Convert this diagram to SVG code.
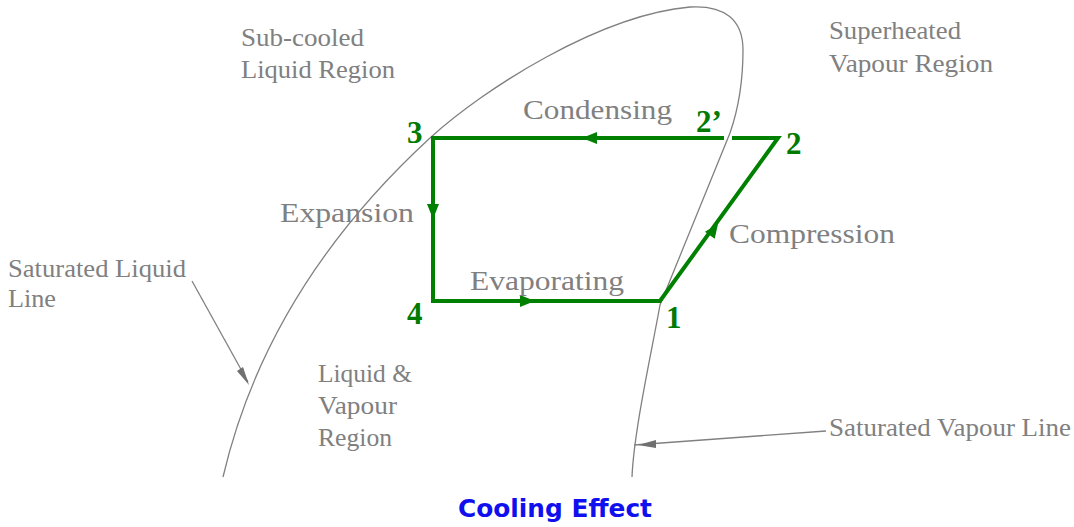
<svg xmlns="http://www.w3.org/2000/svg" width="1074" height="527" viewBox="0 0 1074 527">
<style>
.lbl{font-family:"Liberation Serif","Times New Roman",serif;fill:#808080;font-size:25px}
.big{font-family:"Liberation Serif","Times New Roman",serif;fill:#808080;font-size:28px}
.num{font-family:"Liberation Serif","Times New Roman",serif;fill:#007a00;font-size:31px;font-weight:bold}
.cyc{stroke:#008000;stroke-width:4;fill:none;stroke-linecap:square}
.ah{fill:#008000}
.thin{stroke:#808080;stroke-width:1.3;fill:none}
.gah{fill:#707070}
.title{font-family:"DejaVu Sans","Verdana",sans-serif;fill:#1010ee;font-size:25px;font-weight:bold}
</style>
<rect width="1074" height="527" fill="#ffffff"/>
<g id="dome">
<path class="thin" d="M223,477 C255,340 330,230 430,138 C485,88 600,15 690,7 C725,5 743,20 743,50 C743,85 738,110 730,133 L660,305 C652,350 634,430 632,477"/>
</g>
<g id="connectors">
<g id="cycle">
<path class="cyc" d="M433,138 L722,138"/>
<path class="cyc" d="M734,138 L778,138 L660,301 L433,301 L433,138"/>
<polygon class="ah" points="582,138 597,132 597,144"/>
<polygon class="ah" points="433,219 427,204 439,204"/>
<polygon class="ah" points="535,301 520,295 520,307"/>
<polygon class="ah" points="718,224 714.7,238.8 704.9,231.8"/>
</g>
<g id="sat-liquid-pointer">
<path class="thin" d="M192,281 L248,382"/>
<polygon class="gah" points="249,385 237,371 243,367"/>
</g>
<g id="sat-vapour-pointer">
<path class="thin" d="M826,431 L634,445"/>
<polygon class="gah" points="638,445 656,440 656,448"/>
</g>
</g>
<g id="point-3"><text class="num" x="407" y="143">3</text></g>
<g id="point-4"><text class="num" x="407" y="324">4</text></g>
<g id="point-1"><text class="num" x="666" y="328">1</text></g>
<g id="point-2"><text class="num" x="786" y="154">2</text></g>
<g id="point-2p"><text class="num" x="696" y="132">2’</text></g>
<g id="lbl-condensing"><text class="big" x="523" y="119" textLength="149" lengthAdjust="spacingAndGlyphs">Condensing</text></g>
<g id="lbl-expansion"><text class="big" x="280" y="222" textLength="134" lengthAdjust="spacingAndGlyphs">Expansion</text></g>
<g id="lbl-evaporating"><text class="big" x="470" y="290" textLength="154" lengthAdjust="spacingAndGlyphs">Evaporating</text></g>
<g id="lbl-compression"><text class="big" x="729" y="243" textLength="166" lengthAdjust="spacingAndGlyphs">Compression</text></g>
<g id="lbl-subcooled">
<text class="lbl" x="241" y="46" textLength="123" lengthAdjust="spacingAndGlyphs">Sub-cooled</text>
<text class="lbl" x="241" y="78" textLength="154" lengthAdjust="spacingAndGlyphs">Liquid Region</text>
</g>
<g id="lbl-superheated">
<text class="lbl" x="829" y="39" textLength="132" lengthAdjust="spacingAndGlyphs">Superheated</text>
<text class="lbl" x="829" y="72" textLength="164" lengthAdjust="spacingAndGlyphs">Vapour Region</text>
</g>
<g id="lbl-sat-liquid">
<text class="lbl" x="8" y="277" textLength="178" lengthAdjust="spacingAndGlyphs">Saturated Liquid</text>
<text class="lbl" x="8" y="307" textLength="48" lengthAdjust="spacingAndGlyphs">Line</text>
</g>
<g id="lbl-mixture">
<text class="lbl" x="318" y="382" textLength="94" lengthAdjust="spacingAndGlyphs">Liquid &amp;</text>
<text class="lbl" x="318" y="414" textLength="79" lengthAdjust="spacingAndGlyphs">Vapour</text>
<text class="lbl" x="318" y="446" textLength="74" lengthAdjust="spacingAndGlyphs">Region</text>
</g>
<g id="lbl-sat-vapour"><text class="lbl" x="829" y="436" textLength="242" lengthAdjust="spacingAndGlyphs">Saturated Vapour Line</text></g>
<g id="title"><text class="title" x="458" y="517" textLength="194" lengthAdjust="spacingAndGlyphs">Cooling Effect</text></g>
</svg>
